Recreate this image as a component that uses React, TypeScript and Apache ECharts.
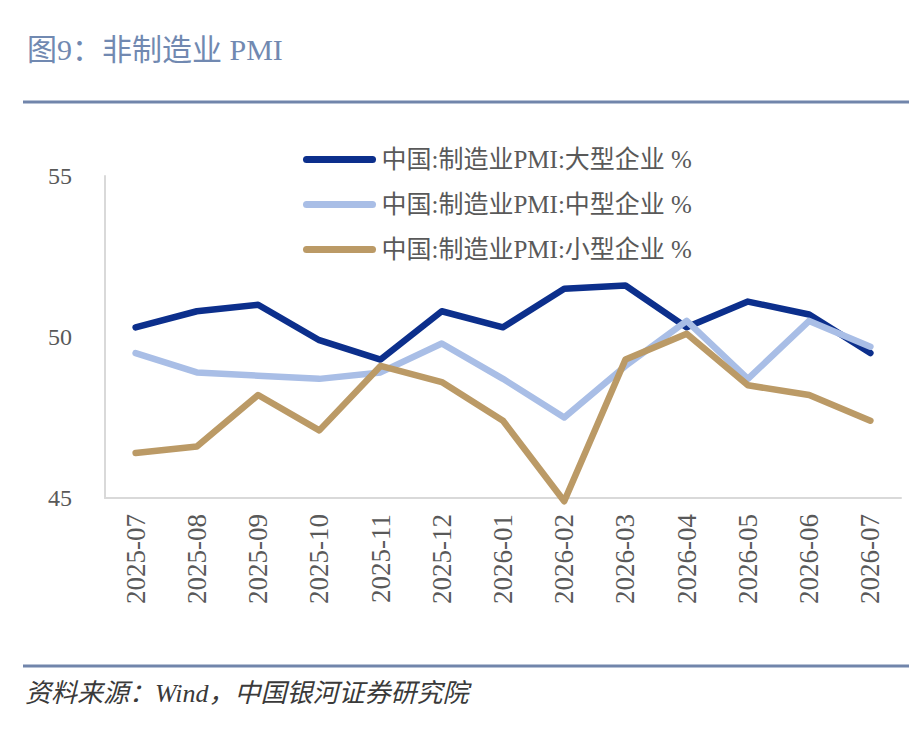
import React, { useEffect, useRef } from "react";
import * as echarts from "echarts";

// months on the x axis
const months: string[] = [
  "2025-07", "2025-08", "2025-09", "2025-10", "2025-11", "2025-12", "2026-01",
  "2026-02", "2026-03", "2026-04", "2026-05", "2026-06", "2026-07",
];

// series values
const largeFirms: number[] = [50.3, 50.8, 51.0, 49.9, 49.3, 50.8, 50.3, 51.5, 51.6, 50.3, 51.1, 50.7, 49.5];
const mediumFirms: number[] = [49.5, 48.9, 48.8, 48.7, 48.9, 49.8, 48.7, 47.5, 49.1, 50.5, 48.7, 50.5, 49.7];
const smallFirms: number[] = [46.4, 46.6, 48.2, 47.1, 49.1, 48.6, 47.4, 44.9, 49.3, 50.1, 48.5, 48.2, 47.4];

const seriesNames: string[] = [
  "中国:制造业PMI:大型企业 %",
  "中国:制造业PMI:中型企业 %",
  "中国:制造业PMI:小型企业 %",
];
const seriesColors: string[] = ["#0c2f8c", "#a9bee6", "#bb9a66"];

const titleText = "图9：非制造业 PMI";
const sourceText = "资料来源：Wind，中国银河证券研究院";

const FONT = '"Liberation Serif", "Noto Sans CJK SC", serif';
const RULE_COLOR = "#7185ab";

const App: React.FC = () => {
  const chartRef = useRef<HTMLDivElement | null>(null);

  useEffect(() => {
    if (!chartRef.current) return;
    const chart = echarts.init(chartRef.current, undefined, { renderer: "svg" });

    const allValues = [largeFirms, mediumFirms, smallFirms];

    const option: echarts.EChartsOption = {
      animation: false,
      backgroundColor: "#ffffff",
      textStyle: { fontFamily: FONT },
      title: {
        text: titleText,
        left: 22,
        top: 29,
        textStyle: {
          fontFamily: FONT,
          fontSize: 30,
          fontWeight: "normal",
          color: "#7189b1",
        },
      },
      legend: {
        orient: "vertical",
        left: 298,
        top: 142,
        itemWidth: 66,
        itemHeight: 25,
        itemGap: 20,
        lineStyle: { width: 7, cap: "round" },
        itemStyle: { opacity: 0 },
        textStyle: {
          fontFamily: FONT,
          fontSize: 25,
          lineHeight: 25,
          color: "#595959",
          padding: [0, 0, 0, 4],
        },
        data: seriesNames,
      },
      grid: {
        left: 105,
        right: 22,
        top: 176,
        bottom: 248,
        containLabel: false,
      },
      xAxis: {
        type: "category",
        data: months,
        boundaryGap: true,
        axisLine: { lineStyle: { color: "#d9d9d9", width: 2 } },
        axisTick: { show: false },
        axisLabel: {
          rotate: 90,
          margin: 16,
          fontFamily: FONT,
          fontSize: 27,
          color: "#595959",
          interval: 0,
        },
      },
      yAxis: {
        type: "value",
        min: 45,
        max: 55,
        interval: 5,
        axisLine: { show: true, lineStyle: { color: "#d9d9d9", width: 2 } },
        axisTick: { show: false },
        splitLine: { show: false },
        axisLabel: {
          margin: 33,
          fontFamily: FONT,
          fontSize: 24,
          color: "#595959",
        },
      },
      series: seriesNames.map((name, i) => ({
        name,
        type: "line",
        data: allValues[i],
        symbol: "none",
        clip: false,
        itemStyle: { color: seriesColors[i] },
        lineStyle: { width: 6.5, color: seriesColors[i], cap: "round", join: "round" },
      })),
      graphic: [
        {
          type: "rect",
          shape: { x: 23, y: 100.5, width: 886, height: 3 },
          style: { fill: RULE_COLOR },
        },
        {
          type: "rect",
          shape: { x: 23, y: 664.5, width: 886, height: 3 },
          style: { fill: RULE_COLOR },
        },
        {
          type: "text",
          x: 25,
          y: 693,
          style: {
            text: sourceText,
            fontFamily: FONT,
            fontSize: 26,
            fontStyle: "italic",
            fill: "#3a3a3a",
            verticalAlign: "middle",
          },
        },
      ],
    };

    chart.setOption(option);

    return () => {
      chart.dispose();
    };
  }, []);

  return (
    <div
      ref={chartRef}
      style={{ position: "absolute", left: 0, top: 0, width: 923, height: 746 }}
    />
  );
};

export default App;
